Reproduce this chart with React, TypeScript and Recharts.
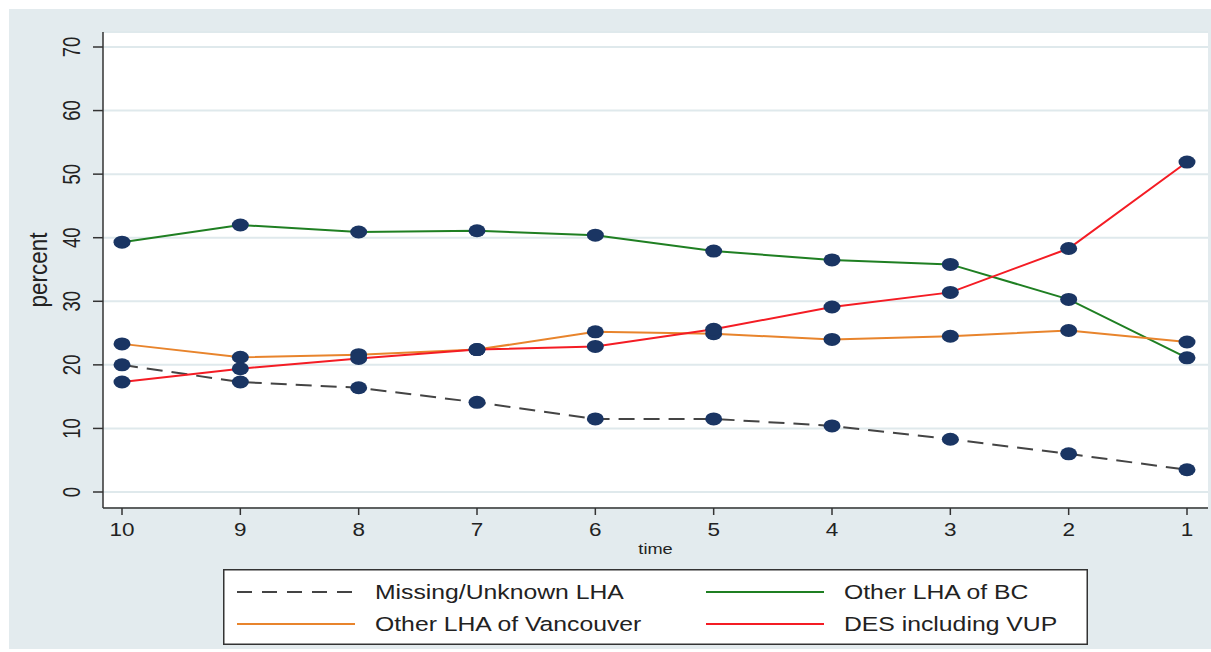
import React from 'react';
import { LineChart, Line, XAxis, YAxis, CartesianGrid, Label } from 'recharts';

// time points, read right-to-left on the original axis
const times = ['10', '9', '8', '7', '6', '5', '4', '3', '2', '1'];
const missingUnknown = [20.0, 17.3, 16.4, 14.1, 11.5, 11.5, 10.4, 8.3, 6.0, 3.5];
const otherBC = [39.3, 42.0, 40.9, 41.1, 40.4, 37.9, 36.5, 35.8, 30.3, 21.1];
const otherVancouver = [23.3, 21.2, 21.6, 22.4, 25.2, 24.9, 24.0, 24.5, 25.4, 23.6];
const desVup = [17.3, 19.4, 21.0, 22.4, 22.9, 25.6, 29.1, 31.4, 38.3, 51.9];
const yTicks = [0, 10, 20, 30, 40, 50, 60, 70];

const FONT = '"Liberation Sans", Arial, Helvetica, sans-serif';
const BG = '#e3ebee';
const AXIS = '#333';
const MARKER = '#1a3563';

const series = [
  { key: 'missing', name: 'Missing/Unknown LHA', color: '#444', dash: '16 9' },
  { key: 'bc', name: 'Other LHA of BC', color: '#1f7f22', dash: undefined },
  { key: 'van', name: 'Other LHA of Vancouver', color: '#e8842c', dash: undefined },
  { key: 'des', name: 'DES including VUP', color: '#f41c24', dash: undefined },
];

const data = times.map((t, i) => ({
  time: t,
  missing: missingUnknown[i],
  bc: otherBC[i],
  van: otherVancouver[i],
  des: desVup[i],
}));

const Marker = (props: any) => {
  const { cx, cy, index } = props;
  if (cx == null || cy == null) return <g key={index} />;
  return <ellipse key={index} cx={cx} cy={cy} rx={8.5} ry={6.5} fill={MARKER} />;
};

const XTick = ({ x, y, payload }: any) => (
  <g transform={`translate(${x},${y + 19}) scale(1.25,1)`}>
    <text textAnchor="middle" fontSize={18} fontFamily={FONT} fill="#222">
      {payload.value}
    </text>
  </g>
);

// rotated labels, widened a bit like the stretched original
const YTick = ({ x, y, payload }: any) => (
  <g transform={`translate(${x - 11},${y}) scale(1.25,1) rotate(-90)`}>
    <text textAnchor="middle" fontSize={18.5} fontFamily={FONT} fill="#222">
      {payload.value}
    </text>
  </g>
);

const Legend = () => {
  const rows = [
    [series[0], series[1]],
    [series[2], series[3]],
  ];
  return (
    <svg
      width={865}
      height={76}
      style={{ position: 'absolute', left: 223, top: 569 }}
    >
      <rect x={0.75} y={0.75} width={863.5} height={74.5} fill="#fff" stroke={AXIS} strokeWidth={1.5} />
      {rows.map((row, r) =>
        row.map((s, c) => {
          const ly = r === 0 ? 23 : 55;
          const lx = c === 0 ? 14 : 483;
          const tx = c === 0 ? 152 : 621;
          return (
            <g key={s.key}>
              <line
                x1={lx}
                x2={lx + 118}
                y1={ly}
                y2={ly}
                stroke={s.color}
                strokeWidth={2}
                strokeDasharray={s.dash ? '15 10' : undefined}
              />
              <g transform={`translate(${tx},${ly + 7}) scale(1.27,1)`}>
                <text fontSize={19.5} fontFamily={FONT} fill="#222">
                  {s.name}
                </text>
              </g>
            </g>
          );
        })
      )}
    </svg>
  );
};

export default function App() {
  return (
    <div style={{ position: 'absolute', left: 0, top: 0, width: 1211, height: 652, background: '#fff' }}>
      <div style={{ position: 'absolute', left: 9, top: 9, width: 1202, height: 640, background: BG }} />
      <div style={{ position: 'absolute', left: 0, top: 0 }}>
        <LineChart
          width={1211}
          height={652}
          data={data}
          margin={{ top: 32, right: 3, bottom: 114, left: 0 }}
        >
          <CartesianGrid vertical={false} fill="#fff" stroke="#dfe9ec" strokeWidth={2} />
          <XAxis
            dataKey="time"
            height={30}
            padding={{ left: 19, right: 21 }}
            axisLine={{ stroke: AXIS, strokeWidth: 1.5 }}
            tickLine={{ stroke: AXIS, strokeWidth: 1.5 }}
            tickSize={7}
            tick={<XTick />}
            interval={0}
          >
            <Label
              content={({ viewBox }: any) => (
                <g transform={`translate(${viewBox.x + viewBox.width / 2},554) scale(1.3,1)`}>
                  <text textAnchor="middle" fontSize={14} fontFamily={FONT} fill="#222">
                    time
                  </text>
                </g>
              )}
            />
          </XAxis>
          <YAxis
            width={103}
            domain={[0, 70]}
            ticks={yTicks}
            padding={{ top: 15, bottom: 16 }}
            axisLine={{ stroke: AXIS, strokeWidth: 1.5 }}
            tickLine={{ stroke: AXIS, strokeWidth: 1.5 }}
            tickSize={10}
            tick={<YTick />}
          >
            <Label
              content={({ viewBox }: any) => {
                const cy = viewBox.y + viewBox.height / 2;
                return (
                  <g transform={`translate(47,${cy}) scale(1.15,1) rotate(-90)`}>
                    <text textAnchor="middle" fontSize={22.5} fontFamily={FONT} fill="#222">
                      percent
                    </text>
                  </g>
                );
              }}
            />
          </YAxis>
          {series.map((s) => (
            <Line
              key={s.key}
              type="linear"
              dataKey={s.key}
              name={s.name}
              stroke={s.color}
              strokeWidth={2}
              strokeDasharray={s.dash}
              dot={<Marker />}
              activeDot={false}
              isAnimationActive={false}
            />
          ))}
        </LineChart>
      </div>
      <Legend />
    </div>
  );
}
